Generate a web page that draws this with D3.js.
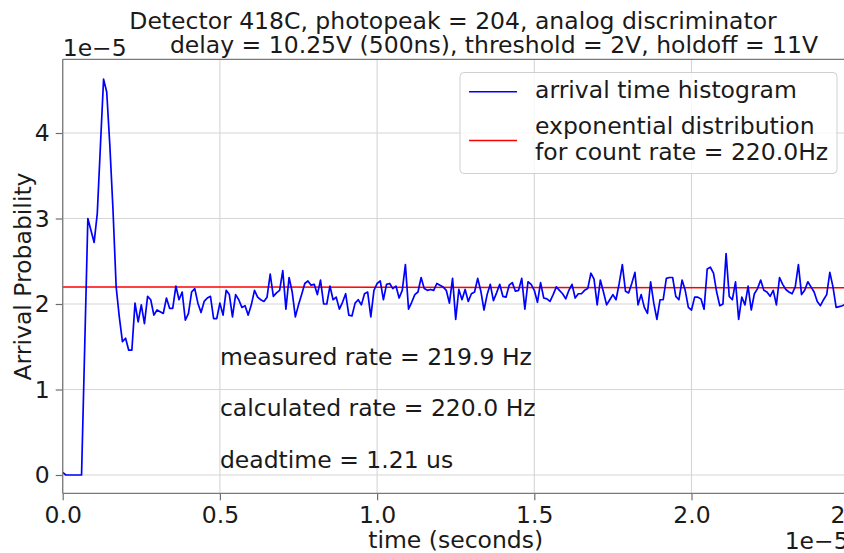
<!DOCTYPE html>
<html>
<head>
<meta charset="utf-8">
<script src="https://cdn.jsdelivr.net/npm/d3@7"></script>
<style>
  html, body { margin: 0; padding: 0; background: #fff; }
  svg { display: block; font-family: "DejaVu Sans", sans-serif; }
</style>
</head>
<body>
<svg id="chart" width="844" height="553"></svg>
<script>
// Arrival-time histogram, in units of 1e-5 per 0.1 us bin
const binWidth = 1e-7;
const histValues = [
  0.03, 0, 0, 0, 0, 0, 0, 1.5, 3.0, 2.86,
  2.72, 3.06, 3.85, 4.63, 4.48, 3.85, 3.1, 2.2, 1.85, 1.56,
  1.60, 1.46, 1.46, 2.01, 1.79, 1.99, 1.77, 2.09, 2.05, 1.87,
  1.93, 1.91, 1.89, 2.07, 1.95, 1.95, 2.21, 2.05, 2.14, 1.81,
  1.89, 2.14, 2.18, 2.01, 1.90, 2.03, 2.07, 2.09, 1.83, 1.83,
  2.01, 1.87, 2.16, 2.11, 1.85, 2.11, 2.05, 1.96, 1.98, 1.87,
  1.99, 2.16, 2.08, 2.05, 2.03, 2.08, 2.35, 2.09, 2.13, 2.16,
  2.39, 1.94, 2.31, 2.14, 1.85, 1.99, 2.11, 2.24, 2.27, 2.22,
  2.23, 2.11, 2.28, 2.00, 2.00, 2.21, 2.05, 2.08, 1.94, 2.02,
  2.12, 1.87, 1.86, 2.01, 2.05, 1.99, 2.12, 2.14, 1.85, 2.16,
  2.24, 2.27, 2.05, 2.23, 2.24, 2.18, 2.21, 2.07, 2.16, 2.46,
  1.94, 2.02, 2.11, 2.14, 2.31, 2.18, 2.16, 2.17, 2.16, 2.24,
  2.22, 2.20, 2.16, 2.01, 2.30, 1.82, 2.17, 2.05, 2.17, 2.03,
  2.12, 2.14, 2.30, 2.15, 1.93, 2.11, 2.23, 2.04, 2.13, 2.23,
  2.09, 2.08, 2.22, 2.25, 2.15, 2.16, 2.30, 1.94, 2.26, 2.23,
  2.16, 2.02, 2.25, 2.07, 2.06, 2.03, 2.11, 2.20, 2.16, 2.12,
  2.06, 2.16, 2.23, 2.07, 2.12, 2.12, 2.16, 2.18, 2.36, 2.29,
  1.99, 2.28, 2.14, 1.99, 2.05, 2.11, 2.05, 2.24, 2.46, 2.15,
  2.13, 2.24, 2.37, 1.99, 2.11, 1.96, 1.89, 2.26, 2.01, 1.82,
  2.05, 2.05, 2.30, 2.31, 2.31, 2.09, 2.05, 2.28, 2.16, 1.96,
  1.93, 2.08, 2.08, 2.06, 1.94, 2.41, 2.43, 2.36, 2.14, 1.98,
  2.00, 2.59, 2.09, 2.05, 2.26, 1.82, 2.08, 1.99, 2.21, 1.93,
  2.12, 2.18, 2.28, 2.16, 2.14, 2.09, 2.16, 1.99, 2.31, 2.23,
  2.17, 2.14, 2.12, 2.20, 2.46, 2.11, 2.16, 2.26, 2.20, 2.14,
  2.03, 1.98, 2.05, 2.11, 2.37, 2.20, 1.96, 1.97, 1.98, 2.00
];

// Expected exponential distribution at 220 Hz (units of 1e-5), endpoints of the range
const expTimes = [0, 2.5e-5];
const expValues = [2.20, 2.19];

const xTicks = [0, 0.5e-5, 1.0e-5, 1.5e-5, 2.0e-5, 2.5e-5];
const yTicks = [0, 1, 2, 3, 4];

const titleLines = [
  "Detector 418C, photopeak = 204, analog discriminator",
  "delay = 10.25V (500ns), threshold = 2V, holdoff = 11V"
];
const legendLabels = [
  ["arrival time histogram"],
  ["exponential distribution", "for count rate = 220.0Hz"]
];
const notes = [
  "measured rate = 219.9 Hz",
  "calculated rate = 220.0 Hz",
  "deadtime = 1.21 us"
];

const histPoints = histValues.map((v, k) => ({ t: k * binWidth, p: v * 1e-5 }));
const expPoints = expTimes.map((t, i) => ({ t: t, p: expValues[i] * 1e-5 }));

const svg = d3.select("#chart");
const W = 844, H = 553;
const axLeft = 62.7, axRight = 848.7, axTop = 59.3, axBottom = 493.3;
const FS = 23.5;
const ink = "#1a1a1a";

const x = d3.scaleLinear().domain([0, 2.5e-5]).range([axLeft, axRight]);
const y = d3.scaleLinear().domain([-0.214e-5, 4.862e-5]).range([axBottom, axTop]);

svg.append("rect").attr("width", W).attr("height", H).attr("fill", "#fff");

svg.append("defs").append("clipPath").attr("id", "plotclip")
  .append("rect").attr("x", axLeft).attr("y", axTop)
  .attr("width", axRight - axLeft).attr("height", axBottom - axTop);

// grid
const grid = svg.append("g");
grid.selectAll("line.gx").data(xTicks).join("line")
  .attr("class", "gx")
  .attr("x1", d => x(d)).attr("x2", d => x(d))
  .attr("y1", axTop).attr("y2", axBottom)
  .attr("stroke", "#d6d6d6").attr("stroke-width", 1.1);
grid.selectAll("line.gy").data(yTicks).join("line")
  .attr("class", "gy")
  .attr("x1", axLeft).attr("x2", axRight)
  .attr("y1", d => y(d * 1e-5)).attr("y2", d => y(d * 1e-5))
  .attr("stroke", "#d6d6d6").attr("stroke-width", 1.1);

// series
const line = d3.line().x(d => x(d.t)).y(d => y(d.p));
const plot = svg.append("g").attr("clip-path", "url(#plotclip)");
plot.append("path").datum(expPoints).attr("d", line)
  .attr("fill", "none").attr("stroke", "#ff0000").attr("stroke-width", 1.5);
plot.append("path").datum(histPoints).attr("d", line)
  .attr("fill", "none").attr("stroke", "#0000ff").attr("stroke-width", 1.7)
  .attr("stroke-linejoin", "round");

// axes
const xAxis = d3.axisBottom(x).tickValues(xTicks)
  .tickFormat(d => (d / 1e-5).toFixed(1)).tickSize(7).tickPadding(6);
const yAxis = d3.axisLeft(y).tickValues(yTicks.map(v => v * 1e-5))
  .tickFormat(d => String(Math.round(d / 1e-5))).tickSize(7).tickPadding(6);

const gx = svg.append("g").attr("transform", `translate(0,${axBottom})`).call(xAxis);
const gy = svg.append("g").attr("transform", `translate(${axLeft},0)`).call(yAxis);
[gx, gy].forEach(g => {
  g.select(".domain").remove();
  g.selectAll(".tick line").attr("stroke", "#6e6e6e").attr("stroke-width", 1.2);
  g.selectAll(".tick text").attr("fill", ink)
    .style("font-size", FS + "px").style("font-family", "DejaVu Sans");
});
gx.selectAll(".tick text").attr("dy", "0.71em");

// spines
const spine = svg.append("g").attr("stroke", "#7a7a7a").attr("stroke-width", 1.3).attr("fill", "none");
spine.append("line").attr("x1", axLeft).attr("x2", axLeft).attr("y1", axTop).attr("y2", axBottom);
spine.append("line").attr("x1", axLeft).attr("x2", axRight).attr("y1", axBottom).attr("y2", axBottom);
spine.append("line").attr("x1", axLeft).attr("x2", axRight).attr("y1", axTop).attr("y2", axTop);

// offset labels
svg.append("text").attr("x", axLeft).attr("y", 56).text("1e\u22125")
  .attr("fill", ink).style("font-size", FS + "px");
svg.append("text").attr("x", axRight).attr("y", 549).attr("text-anchor", "end").text("1e\u22125")
  .attr("fill", ink).style("font-size", FS + "px");

// axis titles
svg.append("text").attr("x", (axLeft + axRight) / 2).attr("y", 548).attr("text-anchor", "middle")
  .text("time (seconds)").attr("fill", ink).style("font-size", FS + "px");
svg.append("text").attr("transform", "translate(31,276.5) rotate(-90)")
  .attr("text-anchor", "middle").text("Arrival Probability")
  .attr("fill", ink).style("font-size", FS + "px");

// title
svg.append("text").attr("x", 453).attr("y", 28.5).attr("text-anchor", "middle")
  .text(titleLines[0]).attr("fill", ink).style("font-size", FS + "px");
svg.append("text").attr("x", 494).attr("y", 53).attr("text-anchor", "middle")
  .text(titleLines[1]).attr("fill", ink).style("font-size", FS + "px");

// annotations in data coordinates
const noteY = [1.29e-5, 0.69e-5, 0.08e-5];
svg.selectAll("text.note").data(notes).join("text")
  .attr("class", "note")
  .attr("x", x(0.5e-5)).attr("y", (d, i) => y(noteY[i]))
  .text(d => d).attr("fill", ink).style("font-size", FS + "px");

// legend
const lg = svg.append("g");
lg.append("rect").attr("x", 460).attr("y", 72.5).attr("width", 377).attr("height", 101)
  .attr("rx", 4).attr("fill", "#fff").attr("fill-opacity", 0.8)
  .attr("stroke", "#d0d0d0").attr("stroke-width", 1);
const legendColors = ["#0000ff", "#ff0000"];
const legendRowY = [91.7, 140.5];
legendLabels.forEach((lines, i) => {
  lg.append("line").attr("x1", 469).attr("x2", 517)
    .attr("y1", legendRowY[i]).attr("y2", legendRowY[i])
    .attr("stroke", legendColors[i]).attr("stroke-width", 1.6);
});
[[legendLabels[0][0], 98.3], [legendLabels[1][0], 134], [legendLabels[1][1], 160]].forEach(([s, b]) => {
  lg.append("text").attr("x", 535).attr("y", b)
    .text(s).attr("fill", ink).style("font-size", FS + "px");
});
</script>
</body>
</html>
